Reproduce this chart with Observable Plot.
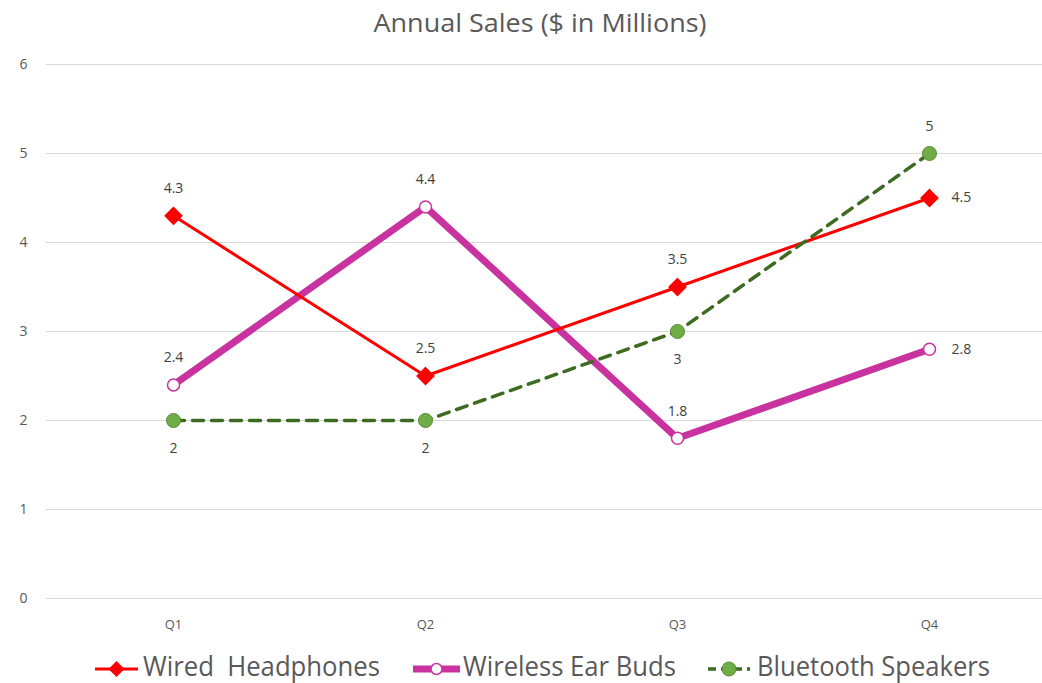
<!DOCTYPE html>
<html>
<head>
<meta charset="utf-8">
<script src="https://cdn.jsdelivr.net/npm/d3@7"></script>
<script src="https://cdn.jsdelivr.net/npm/@observablehq/plot@0.6"></script>
<style>
  html, body { margin: 0; padding: 0; background: #fff; width: 1042px; height: 683px; overflow: hidden; }
  svg { display: block; }
</style>
</head>
<body>
<div id="title"></div>
<div id="chart"></div>
<div id="legend"></div>
<script>
const quarters = ["Q1", "Q2", "Q3", "Q4"];
const wired = [4.3, 2.5, 3.5, 4.5];
const wireless = [2.4, 4.4, 1.8, 2.8];
const bluetooth = [2, 2, 3, 5];
const seriesNames = ["Wired  Headphones", "Wireless Ear Buds", "Bluetooth Speakers"];
const yTicks = [0, 1, 2, 3, 4, 5, 6];
const titleText = "Annual Sales ($ in Millions)";

// label placement per point (style)
const wiredPlace = ["above", "above", "above", "right"];
const wirelessPlace = ["above", "above", "above", "right"];
const bluetoothPlace = ["below", "below", "below", "above"];

const colors = { wired: "#FF0000", wireless: "#C833A0", bluetooth: "#3E6B22", btFill: "#70AD47" };
const FONT = "Open Sans, sans-serif";

// Title
const ts = d3.select("#title").append("svg").attr("width", 1042).attr("height", 44);
ts.append("text").attr("x", 540).attr("y", 32).attr("text-anchor", "middle")
  .attr("font-family", FONT).attr("font-size", 25).attr("fill", "#595959")
  .attr("textLength", 333).attr("lengthAdjust", "spacingAndGlyphs")
  .text(titleText);

function rows(values, places) {
  return quarters.map((q, i) => ({ q, v: values[i], place: places[i] }));
}
const W = rows(wired, wiredPlace);
const E = rows(wireless, wirelessPlace);
const B = rows(bluetooth, bluetoothPlace);

function labels(data) {
  const font = { fontSize: 14, fill: "#404040", fontFamily: FONT };
  return [
    Plot.text(data.filter(d => d.place === "above"), { x: "q", y: "v", text: d => String(d.v), dy: -27, ...font }),
    Plot.text(data.filter(d => d.place === "below"), { x: "q", y: "v", text: d => String(d.v), dy: 28, ...font }),
    Plot.text(data.filter(d => d.place === "right"), { x: "q", y: "v", text: d => String(d.v), dx: 22, textAnchor: "start", ...font })
  ];
}

const chart = Plot.plot({
  width: 1042,
  height: 596,
  marginLeft: 46,
  marginRight: 0,
  marginTop: 20,
  marginBottom: 42,
  x: { type: "point", domain: quarters, range: [172, 929], padding: 0, label: null },
  y: { domain: [0, 6], label: null },
  style: { fontFamily: FONT, color: "#595959", background: "white" },
  marks: [
    Plot.gridY(yTicks, { stroke: "#d9d9d9", strokeOpacity: 1, strokeWidth: 1 }),
    Plot.axisY(yTicks, { tickSize: 0, tickPadding: 19, fontSize: 14, tickFormat: d => String(d), label: null }),
    Plot.axisX({ tickSize: 0, tickPadding: 21, fontSize: 13, label: null }),
    Plot.line(E, { x: "q", y: "v", stroke: colors.wireless, strokeWidth: 7 }),
    Plot.line(W, { x: "q", y: "v", stroke: colors.wired, strokeWidth: 3 }),
    Plot.line(B, { x: "q", y: "v", stroke: colors.bluetooth, strokeWidth: 3.5, strokeDasharray: "11,8" }),
    Plot.dot(W, { x: "q", y: "v", symbol: "diamond2", r: 7.5, fill: colors.wired, stroke: colors.wired }),
    Plot.dot(E, { x: "q", y: "v", symbol: "circle", r: 6, fill: "white", stroke: colors.wireless, strokeWidth: 1.5 }),
    Plot.dot(B, { x: "q", y: "v", symbol: "circle", r: 7, fill: colors.btFill, stroke: "#5a8a35", strokeWidth: 1 }),
    ...labels(W),
    ...labels(E),
    ...labels(B)
  ]
});
document.getElementById("chart").appendChild(chart);

// Legend
const lg = d3.select("#legend").append("svg").attr("width", 1042).attr("height", 43);
const cy = 29;
const items = [
  { name: seriesNames[0], x0: 95, x1: 138, tx: 143, tl: 237, stroke: colors.wired, sw: 3, dash: null, marker: "diamond" },
  { name: seriesNames[1], x0: 413, x1: 460, tx: 463, tl: 213, stroke: colors.wireless, sw: 7, dash: null, marker: "open" },
  { name: seriesNames[2], x0: 708, x1: 750, tx: 757, tl: 233, stroke: colors.bluetooth, sw: 3.5, dash: "8,5", marker: "green" }
];
items.forEach(it => {
  lg.append("line").attr("x1", it.x0).attr("x2", it.x1).attr("y1", cy).attr("y2", cy)
    .attr("stroke", it.stroke).attr("stroke-width", it.sw).attr("stroke-dasharray", it.dash);
  const mx = (it.x0 + it.x1) / 2;
  if (it.marker === "diamond") {
    lg.append("path").attr("d", `M${mx},${cy - 8}L${mx + 8},${cy}L${mx},${cy + 8}L${mx - 8},${cy}Z`).attr("fill", colors.wired);
  } else if (it.marker === "open") {
    lg.append("circle").attr("cx", mx).attr("cy", cy).attr("r", 5.5).attr("fill", "white").attr("stroke", colors.wireless).attr("stroke-width", 1.5);
  } else {
    lg.append("circle").attr("cx", mx).attr("cy", cy).attr("r", 7).attr("fill", colors.btFill).attr("stroke", "#5a8a35");
  }
  lg.append("text").attr("x", it.tx).attr("y", 36)
    .attr("font-family", FONT).attr("font-size", 27).attr("fill", "#595959")
    .attr("textLength", it.tl).attr("lengthAdjust", "spacingAndGlyphs")
    .style("white-space", "pre")
    .text(it.name);
});
</script>
</body>
</html>
